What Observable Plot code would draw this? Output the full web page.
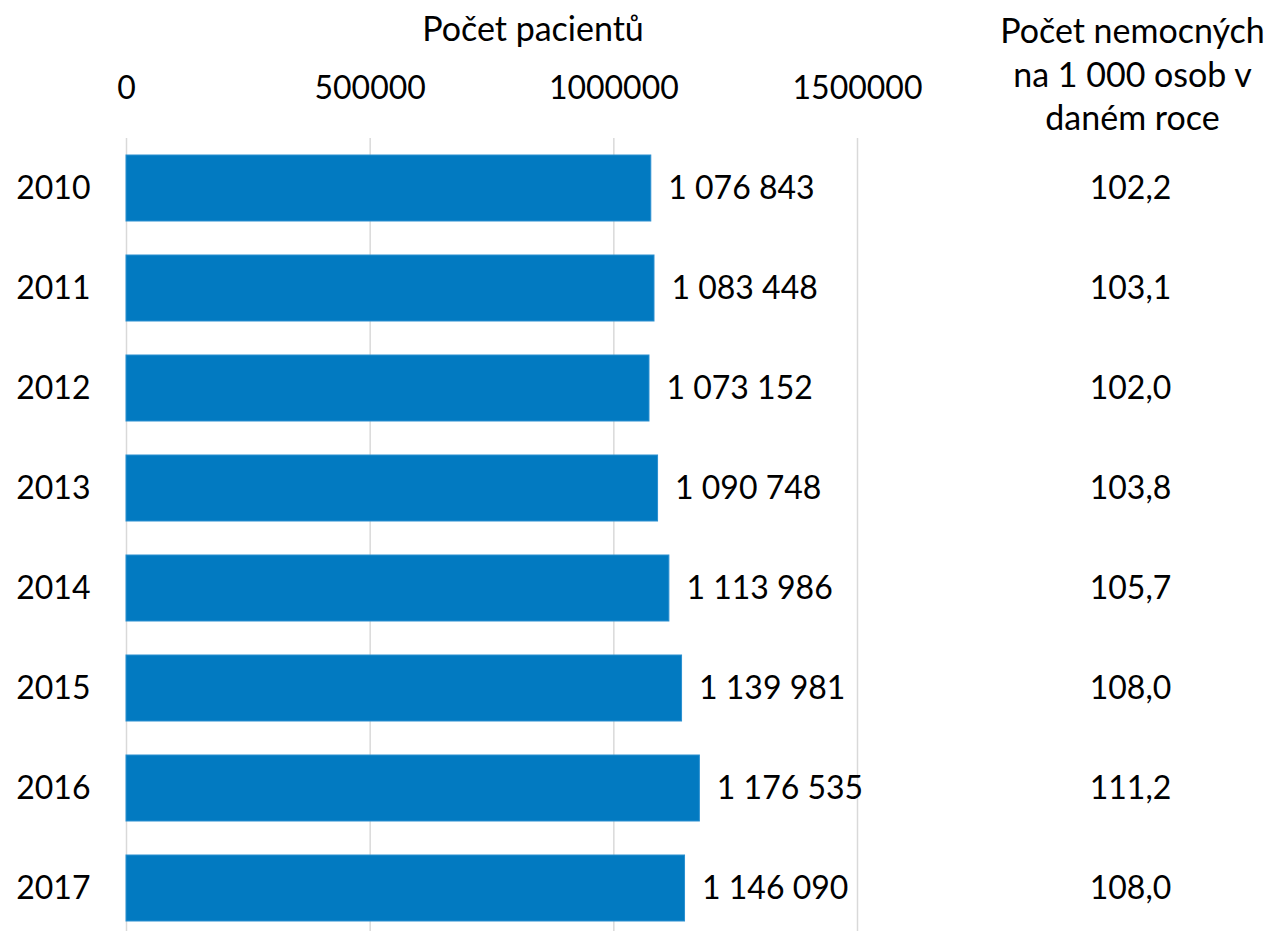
<!DOCTYPE html>
<html>
<head>
<meta charset="utf-8">
<script src="https://cdn.jsdelivr.net/npm/d3@7"></script>
<script src="https://cdn.jsdelivr.net/npm/@observablehq/plot@0.6"></script>
<style>
  html, body { margin: 0; padding: 0; background: #fff; }
  #chart { width: 1270px; height: 931px; overflow: hidden; }
</style>
</head>
<body>
<div id="chart"></div>
<script>
const years = ["2010", "2011", "2012", "2013", "2014", "2015", "2016", "2017"];
const patients = [1076843, 1083448, 1073152, 1090748, 1113986, 1139981, 1176535, 1146090];
const ratePer1000 = [102.2, 103.1, 102.0, 103.8, 105.7, 108.0, 111.2, 108.0];
const xTicks = [0, 500000, 1000000, 1500000];
const xTitle = "Počet pacientů";
const rightTitle = "Počet nemocných\nna 1 000 osob v\ndaném roce";

const data = years.map((y, i) => ({year: y, patients: patients[i], rate: ratePer1000[i]}));
const cz = d3.formatLocale({decimal: ",", thousands: " ", grouping: [3], currency: ["", ""]});
const fmtInt = cz.format(",d");
const fmtRate = cz.format(".1f");

const FONT = "Lato, 'Open Sans', sans-serif";
const FS = 32;   // numbers
const FT = 34;   // header text

const chart = Plot.plot({
  width: 1270,
  height: 931,
  marginLeft: 126,
  marginRight: 413,
  marginTop: 138,
  marginBottom: 0,
  style: {fontFamily: FONT, fontSize: FS + "px", color: "#000", background: "#fff", overflow: "visible"},
  x: {domain: [0, 1500000], range: [126, 857]},
  y: {domain: years, range: [138, 938], paddingInner: 0.34, paddingOuter: 0.17},
  marks: [
    Plot.gridX(xTicks, {stroke: "#d9d9d9", strokeOpacity: 1, strokeWidth: 1.5}),
    Plot.barX(data, {x: "patients", y: "year", fill: "#027AC1", stroke: "#2a8fd0", strokeWidth: 1}),
    Plot.text(data, {x: "patients", y: "year", text: d => fmtInt(d.patients), dx: 17, textAnchor: "start", fontSize: FS, fill: "#000"}),
    Plot.text(data, {y: "year", text: d => fmtRate(d.rate), frameAnchor: "right", dx: 273, textAnchor: "middle", fontSize: FS, fill: "#000"}),
    Plot.axisX({anchor: "top", ticks: xTicks, tickSize: 0, tickPadding: 50, lineAnchor: "middle", tickFormat: d => String(d), fontSize: FS, label: null, fill: "#000"}),
    Plot.axisY({anchor: "left", tickSize: 0, tickPadding: 36, fontSize: FS, label: null, fill: "#000"}),
    Plot.text([xTitle], {frameAnchor: "top", dx: 41, dy: -108, lineAnchor: "middle", fontSize: FT, fill: "#000"}),
    Plot.text([rightTitle], {frameAnchor: "top-right", dx: 275, dy: -66, textAnchor: "middle", lineAnchor: "middle", lineHeight: 1.29, fontSize: FT, fill: "#000"})
  ]
});
document.getElementById("chart").appendChild(chart);
</script>
</body>
</html>
